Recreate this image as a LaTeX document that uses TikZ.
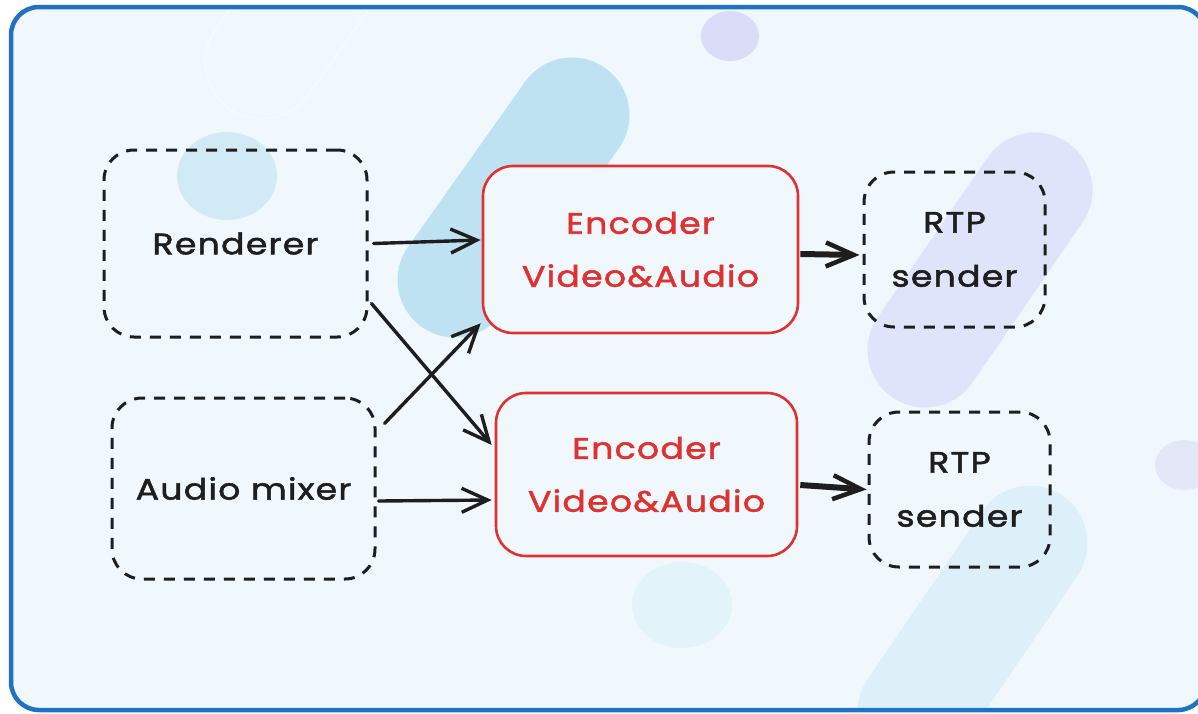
\documentclass[tikz,border=0pt]{standalone}
\usepackage{fontspec}
\setmainfont{Poppins}[FakeStretch=1.18,LetterSpace=4,FakeBold=1.8]
\usetikzlibrary{arrows.meta}

\definecolor{pagebg}{HTML}{F0F8FD}
\definecolor{frameblue}{HTML}{1F72C4}
\definecolor{ink}{HTML}{1E1E1E}
\definecolor{encred}{HTML}{E03131}
\definecolor{pillblue}{HTML}{BEE2F2}
\definecolor{pillpurple}{HTML}{E0E4FA}
\definecolor{pillfaint}{HTML}{DDEFF8}
\definecolor{pillghost}{HTML}{F7FBFE}
\definecolor{dotblue}{HTML}{D2EAF5}
\definecolor{dotfaint}{HTML}{E3F3FA}
\definecolor{dotpurple}{HTML}{DBDCF8}
\definecolor{dotpurple2}{HTML}{E3E7F8}

\tikzset{
  srcbox/.style={draw=ink, line width=3pt, dash pattern=on 11pt off 9pt,
    rounded corners=30pt, inner sep=0pt, align=center, text=ink, font=\fontsize{29.5}{54}\selectfont},
  encbox/.style={draw=encred, fill=pagebg, line width=2.6pt, rounded corners=30pt,
    inner sep=0pt, align=center, text=encred, font=\fontsize{29.5}{53}\selectfont},
  flow/.style={draw=ink, line width=3.4pt, line cap=round,
    -{Straight Barb[length=26pt,width=24pt,line width=3.4pt]}},
  bigflow/.style={draw=ink, line width=6pt,
    -{Straight Barb[length=28pt,width=24pt,line width=4.5pt]}},
  pill/.style={line width=115pt, line cap=round},
}

\begin{document}
\begin{tikzpicture}[x=1pt,y=-1pt]
  \useasboundingbox (0,0) rectangle (1198,713);
  \fill[white] (0,0) rectangle (1198,713);

  % framed panel
  \fill[pagebg, rounded corners=28pt] (11,7) rectangle (1206,710);

  % soft background decorations
  \begin{scope}
    \clip[rounded corners=28pt] (11,7) rectangle (1206,710);
    \draw[pill, color=pillghost] (262,62) -- (380,-105);
    \draw[line width=112pt, line cap=round, color=pagebg] (262,62) -- (380,-105);
    \draw[pill, color=pillblue] (455,280) -- (572,115);
    \draw[pill, color=pillpurple] (925,350) -- (1035,190);
    \draw[pill, color=pillfaint] (915,712) -- (1030,543);
    \fill[dotpurple] (730,36) ellipse [x radius=29, y radius=25];
    \fill[dotblue] (227,176) ellipse [x radius=50, y radius=44];
    \fill[dotfaint] (682,605) ellipse [x radius=50, y radius=43];
    \fill[dotpurple2] (1184,465) ellipse [x radius=29, y radius=25];
  \end{scope}

  \draw[frameblue, line width=4.5pt, rounded corners=28pt] (11,7) rectangle (1206,710);

  % processing blocks
  \node[srcbox, minimum width=263pt, minimum height=187pt] (ren) at (235.5,243.5) {Renderer};
  \node[srcbox, minimum width=263pt, minimum height=181pt] (mix) at (243.5,488.5) {Audio mixer};
  \node[encbox, minimum width=315pt, minimum height=167pt] (enc1) at (640.5,249.5) {Encoder\\Video\&Audio};
  \node[encbox, minimum width=301pt, minimum height=163pt] (enc2) at (646.5,474.5) {Encoder\\Video\&Audio};
  \node[srcbox, minimum width=181pt, minimum height=155pt] (rtp1) at (954.5,249.5) {RTP\\sender};
  \node[srcbox, minimum width=181pt, minimum height=155pt] (rtp2) at (959.5,489.5) {RTP\\sender};

  % data flow
  \draw[flow] ([xshift=5pt,yshift=0pt]ren.east) -- ([xshift=-1pt,yshift=9.5pt]enc1.west);
  \draw[flow] ([xshift=3pt,yshift=35pt]ren.south east) -- ([xshift=-3pt,yshift=29.5pt]enc2.west);
  \draw[flow] ([xshift=8pt,yshift=-27pt]mix.north east) -- ([xshift=-1pt,yshift=11pt]enc1.south west);
  \draw[flow] ([xshift=2pt,yshift=-12.5pt]mix.east) -- ([xshift=-3pt,yshift=-25.5pt]enc2.west);
  \draw[bigflow] ([xshift=1pt,yshift=-4.5pt]enc1.east) -- ([xshift=-3pt,yshift=-5.5pt]rtp1.west);
  \draw[bigflow] ([xshift=2pt,yshift=-10.5pt]enc2.east) -- ([xshift=-1pt]rtp2.west);
\end{tikzpicture}
\end{document}
